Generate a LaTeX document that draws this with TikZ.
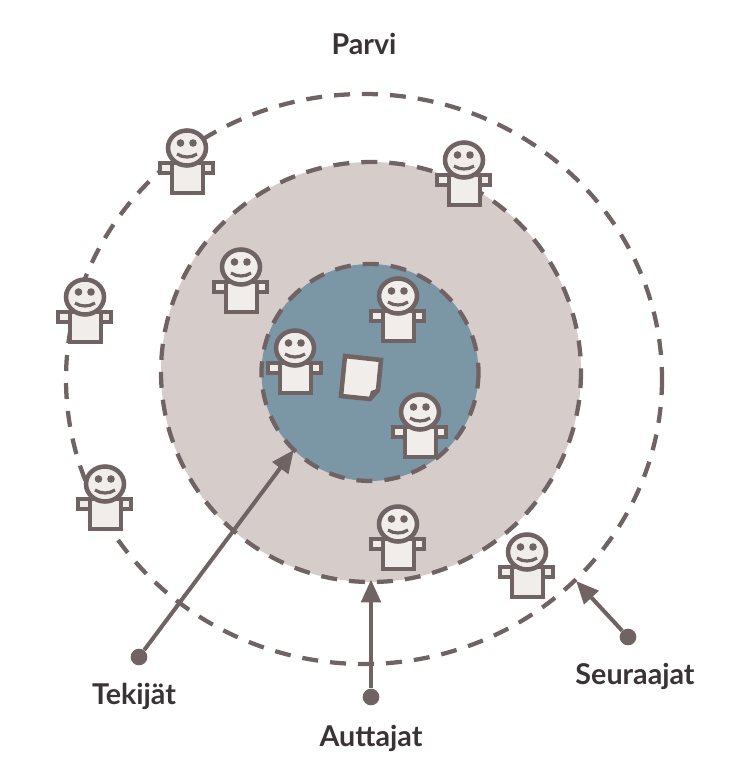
\documentclass[tikz,border=0pt]{standalone}
\usepackage{fontspec}
\setmainfont{Lato}
\usetikzlibrary{arrows.meta}
\definecolor{viiva}{HTML}{6F6363}
\definecolor{kehys}{HTML}{D6CDCA}
\definecolor{ydin}{HTML}{7B96A5}
\definecolor{vaalea}{HTML}{F1EDEB}
\definecolor{teksti}{HTML}{3A3335}
\tikzset{
  ring/.style={draw=viiva,line width=3.2pt,dash pattern=on 12pt off 9pt},
  person line/.style={draw=viiva,line width=3.4pt,fill=vaalea},
  dot/.style={circle,fill=viiva,inner sep=0pt,minimum size=12.5pt},
  nimi/.style={font=\bfseries\fontsize{21.5}{24}\selectfont,text=teksti},
  arrow/.style={draw=viiva,line width=3pt,-{Triangle[length=17pt,width=14.5pt]},shorten >=-1pt},
  person/.pic={
    \draw[person line] (-27,15) rectangle (-15,25);
    \draw[person line] (15,15) rectangle (26,25);
    \draw[person line] (-15,15) rectangle (16,45);
    \draw[person line] (0,0) ellipse[x radius=19,y radius=17.5];
    \fill[viiva] (-6.5,-5) circle[radius=3.8] (6,-5) circle[radius=3.8];
    \draw[viiva,line width=2.4pt] (-10,6) .. controls (-4,10) and (4,10) .. (10,6);
  }
}
\begin{document}
\begin{tikzpicture}[x=0.75pt,y=-0.75pt]
\useasboundingbox (0,0) rectangle (732,777);
%
% Renkaat
\draw[ring] (364,379) ellipse[x radius=298,y radius=285];
\draw[ring,fill=kehys] (371,372) circle[radius=210];
\draw[ring,fill=ydin] (370,372.5) circle[radius=108.5];
%
% Paperi
\draw[person line] (345,356) -- (381,360) -- (378,390) -- (370,399) -- (341,396) -- cycle;
\draw[viiva,line width=2pt] (370,399) -- (372,392) -- (378,390);
%
% Hahmot
\pic (p1) at (187,148) {person};
\pic (p2) at (464,160) {person};
\pic (p3) at (241,267) {person};
\pic (p4) at (85,297) {person};
\pic (p5) at (398,296) {person};
\pic (p6) at (295,348) {person};
\pic (p7) at (420,412) {person};
\pic (p8) at (105,484) {person};
\pic (p9) at (398,524) {person};
\pic (p10) at (527,552) {person};
%
% Nimet
\node[nimi] (parvi) at (364,44) {Parvi};
\node[nimi] (tekijat) at (134,696) {Tekijät};
\node[nimi] (auttajat) at (371,738) {Auttajat};
\node[nimi] (seuraajat) at (635,676) {Seuraajat};
%
% Nuolet
\node[dot] (tekijatdot) at (139,657) {};
\node[dot] (auttajatdot) at (371,697) {};
\node[dot] (seuraajatdot) at (628,637) {};
\coordinate (tekijatend) at (293,451);
\coordinate (auttajatend) at (371,581);
\coordinate (seuraajatend) at (577,582);
\draw[arrow] (tekijatdot) -- (tekijatend);
\draw[arrow] (auttajatdot) -- (auttajatend);
\draw[arrow] (seuraajatdot) -- (seuraajatend);
\end{tikzpicture}
\end{document}
